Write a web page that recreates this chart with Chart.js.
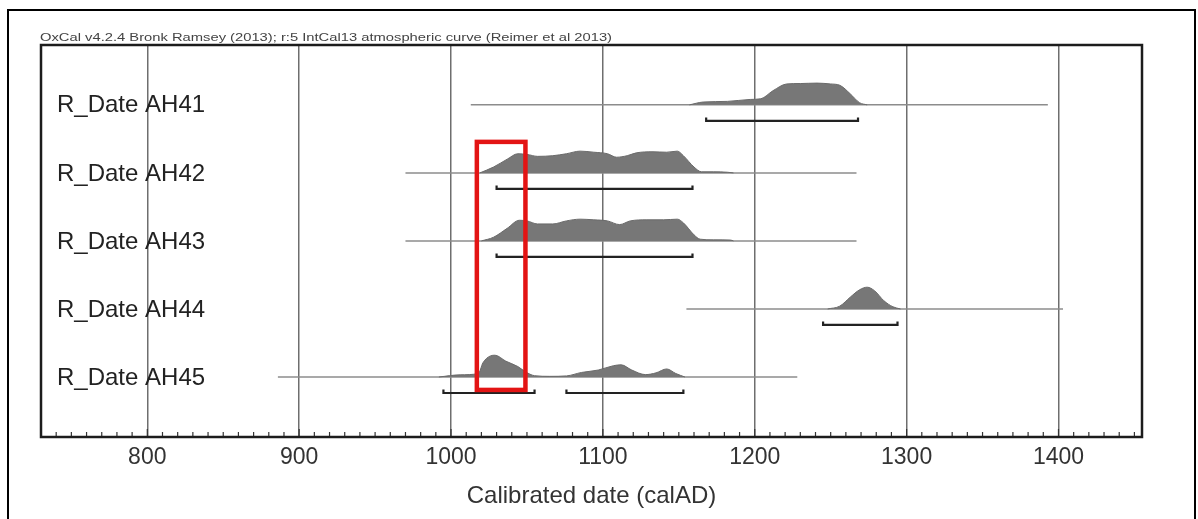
<!DOCTYPE html>
<html><head><meta charset="utf-8">
<script src="https://cdn.jsdelivr.net/npm/chart.js@4.4.1/dist/chart.umd.min.js"></script>
<style>html,body{margin:0;padding:0;background:#fff;overflow:hidden}#wrap{width:1198px;height:519px;position:relative}</style>
</head><body><div id="wrap"><canvas id="c" width="1198" height="519"></canvas></div>
<script>
const headerText = "OxCal v4.2.4 Bronk Ramsey (2013); r:5 IntCal13 atmospheric curve (Reimer et al 2013)";
const axisTitle = "Calibrated date (calAD)";
const sampleNames = ["R_Date AH41", "R_Date AH42", "R_Date AH43", "R_Date AH44", "R_Date AH45"];
const rowPositions = [5, 4, 3, 2, 1];
const xMin = 730, xMax = 1455;
const majorTicks = [800, 900, 1000, 1100, 1200, 1300, 1400];
const rangeStart = [1013, 970, 970, 1155, 886];
const rangeEnd = [1393, 1267, 1267, 1403, 1228];
const hpdAH41 = [[1168, 1268]];
const hpdAH42 = [[1030, 1159]];
const hpdAH43 = [[1030, 1159]];
const hpdAH44 = [[1245, 1294]];
const hpdAH45 = [[995, 1055], [1076, 1153]];
const yearsAH41 = [1157, 1166, 1182, 1197, 1204, 1212, 1221, 1230, 1241, 1250, 1256, 1263, 1269, 1274];
const probAH41 = [0, 0.13, 0.16, 0.25, 0.28, 0.65, 0.96, 0.98, 1.0, 0.96, 0.9, 0.5, 0.1, 0];
const yearsAH42 = [1019, 1028, 1037, 1044, 1050, 1057, 1067, 1076, 1085, 1094, 1103, 1109, 1116, 1122, 1133, 1142, 1149, 1153, 1160, 1165, 1173, 1182, 1186];
const probAH42 = [0, 0.27, 0.63, 0.88, 0.85, 0.76, 0.79, 0.88, 1.0, 0.95, 0.88, 0.72, 0.79, 0.92, 0.97, 0.95, 1.0, 0.79, 0.27, 0.05, 0.05, 0.03, 0];
const yearsAH43 = [1020, 1028, 1037, 1045, 1050, 1057, 1067, 1076, 1085, 1094, 1103, 1111, 1118, 1129, 1140, 1149, 1153, 1160, 1164, 1173, 1184, 1186];
const probAH43 = [0, 0.17, 0.58, 0.95, 0.92, 0.78, 0.78, 0.92, 1.0, 0.97, 0.92, 0.75, 0.92, 0.97, 0.97, 1.0, 0.83, 0.28, 0.08, 0.05, 0.04, 0];
const yearsAH44 = [1248, 1256, 1263, 1269, 1274, 1279, 1285, 1291, 1296];
const probAH44 = [0, 0.13, 0.55, 0.88, 1.0, 0.83, 0.38, 0.1, 0];
const yearsAH45 = [992, 1006, 1018, 1021, 1026, 1029, 1036, 1044, 1049, 1055, 1065, 1076, 1086, 1097, 1107, 1112, 1119, 1128, 1135, 1142, 1148, 1154];
const probAH45 = [0, 0.1, 0.16, 0.65, 0.97, 1.0, 0.73, 0.48, 0.24, 0.06, 0.03, 0.05, 0.21, 0.32, 0.52, 0.56, 0.32, 0.11, 0.19, 0.37, 0.16, 0];
const highlightYears = [1017, 1049];
const highlightRows = [4.456, 0.81];

const allYears = [yearsAH41, yearsAH42, yearsAH43, yearsAH44, yearsAH45];
const allProb = [probAH41, probAH42, probAH43, probAH44, probAH45];
const allHpd = [hpdAH41, hpdAH42, hpdAH43, hpdAH44, hpdAH45];

const PEAK = 0.32, BR = 0.235, HOOK = 0.05;
const FONT = '"Liberation Sans", Arial, sans-serif';

const datasets = [];
rowPositions.forEach((row, i) => {
  datasets.push({
    data: [{x: rangeStart[i], y: row}, {x: rangeEnd[i], y: row}],
    borderColor: '#8c8c8c', borderWidth: 1.5, pointRadius: 0, fill: false, order: 3
  });
  datasets.push({
    data: allYears[i].map((yr, k) => ({x: yr, y: row + allProb[i][k] * PEAK})),
    borderColor: '#6a6a6a', backgroundColor: '#777777', borderWidth: 1,
    pointRadius: 0, fill: {value: row}, cubicInterpolationMode: 'monotone', order: 2
  });
  allHpd[i].forEach(([a, b]) => {
    datasets.push({
      data: [{x: a, y: row - BR + HOOK}, {x: a, y: row - BR}, {x: b, y: row - BR}, {x: b, y: row - BR + HOOK}],
      borderColor: '#222', borderWidth: 2.2, pointRadius: 0, fill: false, order: 1
    });
  });
});

const decor = {
  id: 'decor',
  afterDraw(chart) {
    const {ctx, chartArea: ca, scales: {x, y}} = chart;
    ctx.save();
    ctx.strokeStyle = '#333'; ctx.lineWidth = 1.2;
    for (let v = Math.ceil(xMin / 10) * 10; v <= xMax; v += 10) {
      const px = x.getPixelForValue(v);
      ctx.beginPath();
      ctx.moveTo(px, ca.bottom);
      ctx.lineTo(px, ca.bottom - (v % 100 === 0 ? 8 : 5));
      ctx.stroke();
    }
    ctx.strokeStyle = '#1c1c1c'; ctx.lineWidth = 2.5;
    ctx.strokeRect(ca.left, ca.top, ca.right - ca.left, ca.bottom - ca.top);
    ctx.fillStyle = '#222'; ctx.font = '24px ' + FONT;
    ctx.textBaseline = 'middle'; ctx.textAlign = 'left';
    rowPositions.forEach((row, i) => {
      ctx.fillText(sampleNames[i], 57, y.getPixelForValue(row) + 1);
    });
    ctx.font = '11px ' + FONT;
    ctx.fillStyle = '#444'; ctx.textBaseline = 'alphabetic';
    const w = ctx.measureText(headerText).width;
    ctx.save();
    ctx.translate(40, 41);
    ctx.scale(572 / w, 1);
    ctx.fillText(headerText, 0, 0);
    ctx.restore();
    ctx.strokeStyle = '#000'; ctx.lineWidth = 2;
    ctx.beginPath();
    ctx.moveTo(8, 519); ctx.lineTo(8, 10); ctx.lineTo(1195, 10); ctx.lineTo(1195, 519);
    ctx.stroke();
    const hx1 = x.getPixelForValue(highlightYears[0]), hx2 = x.getPixelForValue(highlightYears[1]);
    const hy1 = y.getPixelForValue(highlightRows[0]), hy2 = y.getPixelForValue(highlightRows[1]);
    ctx.strokeStyle = '#e31414'; ctx.lineWidth = 4.5;
    ctx.strokeRect(hx1, hy1, hx2 - hx1, hy2 - hy1);
    ctx.restore();
  }
};

new Chart(document.getElementById('c'), {
  type: 'line',
  data: {datasets},
  options: {
    responsive: false, animation: false,
    layout: {padding: {left: 41, right: 56, top: 45, bottom: 0}},
    plugins: {legend: {display: false}, tooltip: {enabled: false}, title: {display: false}},
    scales: {
      x: {
        type: 'linear', min: xMin, max: xMax,
        afterFit(s) { s.height = 82; },
        ticks: {
          stepSize: 10, autoSkip: false, maxRotation: 0, minRotation: 0, padding: 7,
          color: '#333', font: {size: 23, family: FONT},
          callback: v => majorTicks.includes(v) ? String(v) : ''
        },
        grid: {
          drawTicks: false, lineWidth: 1.5,
          color: c => (c.tick && majorTicks.includes(c.tick.value)) ? '#6e6e6e' : 'rgba(0,0,0,0)'
        },
        border: {display: false},
        title: {display: true, text: axisTitle, color: '#333', font: {size: 24, family: FONT}, padding: {top: 0, bottom: 8}}
      },
      y: {type: 'linear', min: 0.118, max: 5.88, display: false}
    }
  },
  plugins: [decor]
});
</script>
</body></html>
